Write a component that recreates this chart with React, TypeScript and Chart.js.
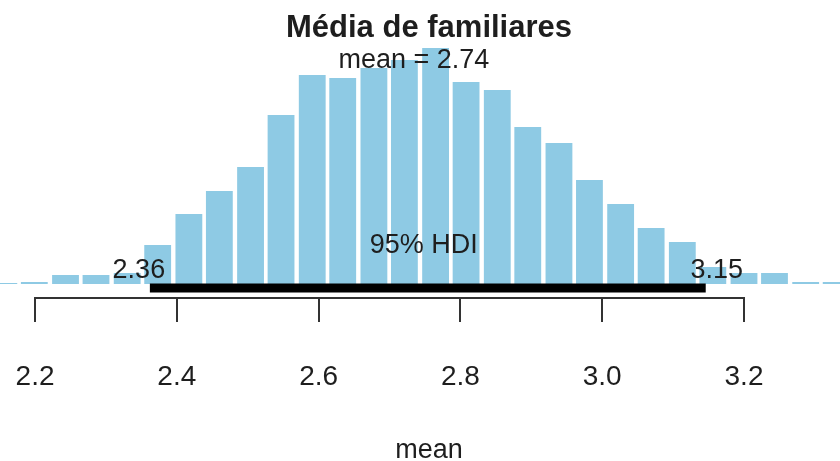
import { useEffect, useRef } from "react";
import { Chart, registerables } from "chart.js";

Chart.register(...registerables);

// Histogram of posterior draws of the mean (bin centres and bar heights)
const binCenters = [
  2.156, 2.199, 2.243, 2.286, 2.33, 2.373, 2.417, 2.46, 2.504, 2.547, 2.591, 2.634, 2.678, 2.721,
  2.765, 2.808, 2.852, 2.895, 2.939, 2.982, 3.026, 3.069, 3.113, 3.156, 3.2, 3.243, 3.287, 3.33,
];
const binHeights = [
  1, 2, 9, 9, 11, 39, 70, 93, 117, 169, 209, 206, 216, 224,
  236, 202, 194, 157, 141, 104, 80, 56, 42, 17, 11, 11, 2, 2,
];
const hdiLimits = [2.362, 3.146];
const meanValue = 2.74;
const xRange = [2.1506, 3.3354];
const yRange = [-14, 284];
const hdiLevel = -4;
const titleText = "Média de familiares";
const xTitle = "mean";

const FONT = "'Liberation Sans', Arial, Helvetica, sans-serif";
const TEXT = "#1e1e1e";
const X_AXIS_HEIGHT = 163;

export default function App() {
  const ref = useRef<HTMLCanvasElement>(null);

  useEffect(() => {
    if (!ref.current) return;
    const overlay = {
      id: "overlay",
      afterDatasetsDraw(chart: any) {
        const { ctx, chartArea } = chart;
        const xs = chart.scales.x;
        const plotCenter = (chartArea.left + chartArea.right) / 2 + 9;
        ctx.save();
        // axis line spanning first to last tick
        const ticks = xs.ticks;
        const x0 = xs.getPixelForValue(ticks[0].value);
        const x1 = xs.getPixelForValue(ticks[ticks.length - 1].value);
        ctx.strokeStyle = "#333";
        ctx.lineWidth = 2;
        ctx.beginPath();
        ctx.moveTo(x0 - 1, chartArea.bottom);
        ctx.lineTo(x1 + 1, chartArea.bottom);
        ctx.stroke();

        ctx.fillStyle = TEXT;
        ctx.textBaseline = "alphabetic";
        ctx.textAlign = "center";
        // title
        ctx.font = `bold 31px ${FONT}`;
        ctx.fillText(titleText, plotCenter, 37);
        // mean subtitle
        ctx.font = `27px ${FONT}`;
        ctx.fillText(`mean = ${meanValue.toFixed(2)}`, xs.getPixelForValue(meanValue) - 4, 68);
        // HDI labels
        const pl = xs.getPixelForValue(hdiLimits[0]);
        const ph = xs.getPixelForValue(hdiLimits[1]);
        ctx.fillText("95% HDI", (pl + ph) / 2 - 4, 253);
        ctx.fillText(hdiLimits[0].toFixed(2), pl - 11, 278);
        ctx.fillText(hdiLimits[1].toFixed(2), ph + 11, 278);
        // x axis title
        ctx.fillText(xTitle, plotCenter, 458);
        ctx.restore();
      },
    };

    const chart = new Chart(ref.current, {
      type: "bar",
      data: {
        datasets: [
          {
            type: "line",
            data: hdiLimits.map((x) => ({ x, y: hdiLevel })),
            borderColor: "#000",
            borderWidth: 9,
            borderCapStyle: "butt",
            pointRadius: 0,
            order: 0,
          } as any,
          {
            type: "bar",
            data: binCenters.map((x, i) => ({ x, y: binHeights[i] })),
            backgroundColor: "#8ecae4",
            borderWidth: 0,
            barPercentage: 0.88,
            categoryPercentage: 1,
            order: 1,
          },
        ],
      },
      options: {
        responsive: false,
        animation: false,
        events: [],
        layout: { padding: 0 },
        plugins: {
          legend: { display: false },
          tooltip: { enabled: false },
          title: { display: false },
        },
        scales: {
          x: {
            type: "linear",
            min: xRange[0],
            max: xRange[1],
            offset: false,
            border: { display: false },
            grid: {
              offset: false,
              drawOnChartArea: false,
              drawTicks: true,
              tickLength: 24,
              color: "#333",
              lineWidth: 2,
            },
            ticks: {
              stepSize: 0.2,
              includeBounds: false,
              autoSkip: false,
              maxRotation: 0,
              padding: 38,
              color: TEXT,
              font: { family: FONT, size: 28 },
              callback: (v: any) => Number(v).toFixed(1),
            },
            title: { display: false },
            afterFit: (scale: any) => {
              scale.paddingLeft = 0;
              scale.paddingRight = 0;
              scale.height = X_AXIS_HEIGHT;
            },
          },
          y: {
            display: false,
            min: yRange[0],
            max: yRange[1],
          },
        },
      },
      plugins: [overlay],
    });
    return () => chart.destroy();
  }, []);

  return (
    <div style={{ position: "absolute", left: 0, top: 0, width: 840, height: 461, background: "#fff" }}>
      <canvas ref={ref} width={840} height={461} style={{ display: "block" }} />
    </div>
  );
}
